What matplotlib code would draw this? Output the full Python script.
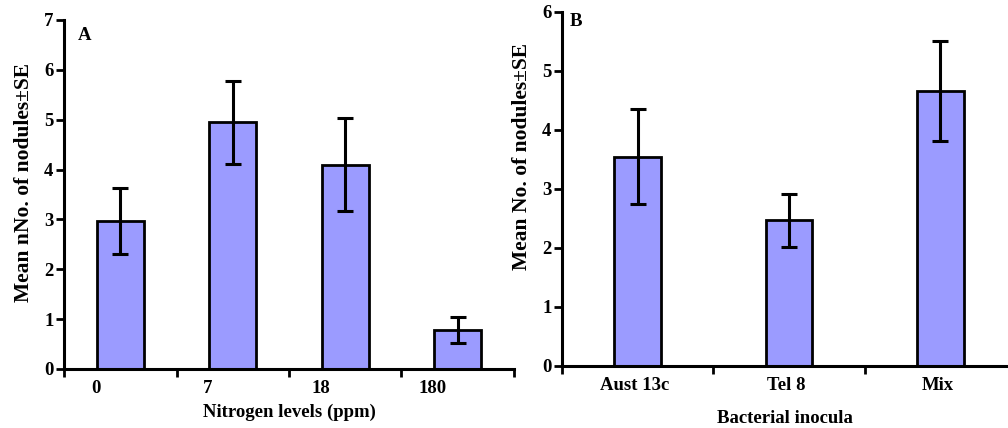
import matplotlib
matplotlib.use("Agg")
import matplotlib.pyplot as plt

# data
nitrogen_levels = ["0", "7", "18", "180"]
nitrogen_means = [2.97, 4.95, 4.10, 0.78]
nitrogen_se = [0.66, 0.83, 0.94, 0.255]

inocula = ["Aust 13c", "Tel 8", "Mix"]
inocula_means = [3.55, 2.47, 4.66]
inocula_se = [0.81, 0.445, 0.845]

plt.rcParams['font.family'] = ['Liberation Serif', 'DejaVu Serif']
plt.rcParams['font.weight'] = 'bold'

bar_color = '#9b9bff'
fs = 13.5
yfs = 15.5

fig = plt.figure(figsize=(10.08, 4.28), dpi=100)
axA = fig.add_axes([0.0635, 0.1379, 0.4464, 0.8154])
axB = fig.add_axes([0.5575, 0.1449, 0.4504, 0.8271])


def style(ax, n, ymax, label_pos, labels):
    for s in ['top', 'right']:
        ax.spines[s].set_visible(False)
    for s in ['left', 'bottom']:
        ax.spines[s].set_linewidth(2.2)
    ax.set_xlim(0, n)
    ax.set_ylim(0, ymax)
    ax.set_yticks(range(ymax + 1))
    ax.set_xticks(range(n + 1))
    ax.set_xticklabels([])
    ax.tick_params(axis='both', which='major', direction='out', length=6,
                   width=2, labelsize=fs)
    ax.tick_params(axis='y', pad=1.5)
    ax.set_xticks(label_pos, minor=True)
    ax.set_xticklabels(labels, minor=True, fontsize=fs, fontweight='bold')
    ax.tick_params(axis='x', which='minor', length=0, pad=8)
    for t in ax.get_yticklabels():
        t.set_fontweight('bold')


# panel A
xa = [i + 0.5 for i in range(len(nitrogen_levels))]
axA.bar(xa, nitrogen_means, width=0.42, color=bar_color, edgecolor='black',
        linewidth=2, zorder=2)
axA.errorbar(xa, nitrogen_means, yerr=nitrogen_se, fmt='none', ecolor='black',
             elinewidth=2.2, capsize=6, capthick=2.2, zorder=3)
style(axA, len(nitrogen_levels), 7, [i + 0.28 for i in range(4)], nitrogen_levels)
axA.set_ylabel("Mean nNo. of nodules\u00b1SE", fontsize=yfs, fontweight='bold')
axA.yaxis.set_label_coords(-0.067, 0.533)
axA.set_xlabel("Nitrogen levels (ppm)", fontsize=fs, fontweight='bold')
axA.xaxis.set_label_coords(0.502, -0.10)
axA.text(0.03, 0.955, "A", transform=axA.transAxes, fontsize=fs,
         fontweight='bold', va='center', ha='left')

# panel B
xb = [i + 0.5 for i in range(len(inocula))]
axB.bar(xb, inocula_means, width=0.31, color=bar_color, edgecolor='black',
        linewidth=2, zorder=2)
axB.errorbar(xb, inocula_means, yerr=inocula_se, fmt='none', ecolor='black',
             elinewidth=2.2, capsize=6, capthick=2.2, zorder=3)
style(axB, len(inocula), 6, [i + 0.48 for i in range(3)], inocula)
axB.set_ylabel("Mean No. of nodules\u00b1SE", fontsize=yfs, fontweight='bold')
axB.yaxis.set_label_coords(-0.066, 0.593)
axB.set_xlabel("Bacterial inocula", fontsize=fs, fontweight='bold')
axB.xaxis.set_label_coords(0.491, -0.124)
axB.text(0.018, 0.972, "B", transform=axB.transAxes, fontsize=fs,
         fontweight='bold', va='center', ha='left')

fig.savefig("out.png", dpi=100)
